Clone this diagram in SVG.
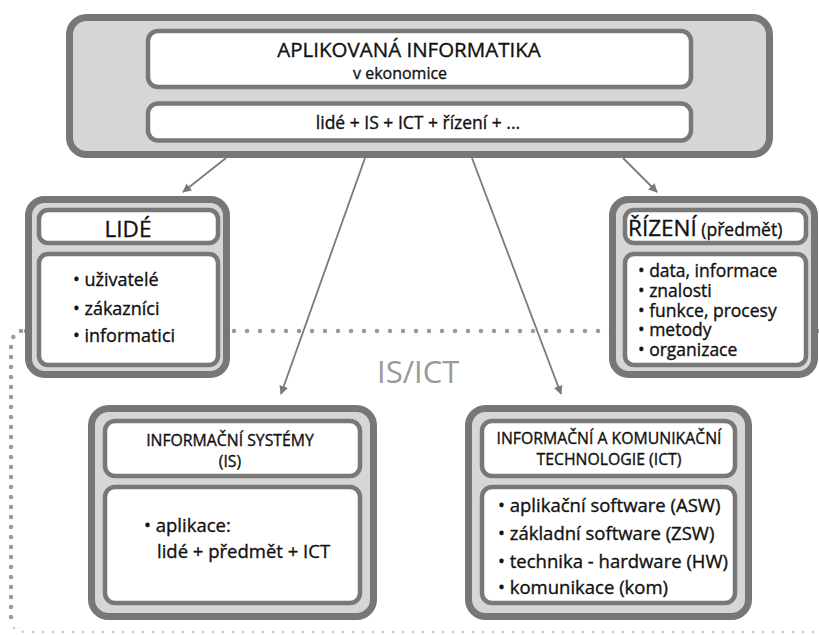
<svg xmlns="http://www.w3.org/2000/svg" width="819" height="635" viewBox="0 0 819 635">
<style>
.outer{fill:#d6d6d6;stroke:#777;stroke-width:7}
.inner{fill:#fff;stroke:#787878;stroke-width:4.5}
text{font-family:"Open Sans","Liberation Sans",sans-serif;fill:#111;stroke:#111;stroke-width:0.35}
.c{text-anchor:middle}
.conn{stroke:#7a7a7a;stroke-width:1.8;fill:none}
.dot{stroke:#9a9a9a;stroke-width:4.5;stroke-linecap:round;fill:none}
</style>
<defs>
<marker id="ah" viewBox="0 0 10 10" refX="9" refY="5" markerWidth="5" markerHeight="5" orient="auto" markerUnits="strokeWidth">
<path d="M0,0 L10,5 L0,10 z" fill="#7a7a7a"/>
</marker>
</defs>
<rect width="819" height="635" fill="#fff"/>
<g id="dotted">
<path class="dot" d="M819,331 L22,331" stroke-dasharray="0 13"/>
<path class="dot" d="M21,331 Q12,334 11,345 L11,622" stroke-dasharray="0 10"/>
<path d="M14,628 Q17,632 26,632 L819,632" stroke="#c8c8c8" stroke-width="2.5" stroke-linecap="round" fill="none" stroke-dasharray="0 10"/>
</g>
<g id="connectors">
<line class="conn" x1="226" y1="158" x2="183" y2="192" marker-end="url(#ah)"/>
<line class="conn" x1="365" y1="158" x2="281" y2="394" marker-end="url(#ah)"/>
<line class="conn" x1="472" y1="158" x2="561" y2="394" marker-end="url(#ah)"/>
<line class="conn" x1="623" y1="158" x2="657" y2="192" marker-end="url(#ah)"/>
</g>
<g id="top">
<rect class="outer" x="69.5" y="17.5" width="700" height="137" rx="17"/>
<rect class="inner" x="148" y="31" width="543" height="56" rx="10"/>
<rect class="inner" x="148" y="103.5" width="543" height="37" rx="10"/>
<text class="c" x="409" y="57" font-size="20.5">APLIKOVANÁ INFORMATIKA</text>
<text x="353" y="79" font-size="16">v ekonomice</text>
<text class="c" x="418" y="129" font-size="17.5">lidé + IS + ICT + řízení + ...</text>
</g>
<g id="lide">
<rect class="outer" x="28.5" y="199.5" width="198" height="175" rx="16"/>
<rect class="inner" x="39" y="210" width="179" height="33" rx="9"/>
<rect class="inner" x="39" y="254" width="179" height="111" rx="9"/>
<text class="c" x="128" y="237" font-size="22.5">LIDÉ</text>
<text x="73" y="286" font-size="18">• uživatelé</text>
<text x="73" y="315" font-size="18">• zákazníci</text>
<text x="73" y="342" font-size="18">• informatici</text>
</g>
<g id="rizeni">
<rect class="outer" x="612.5" y="199.5" width="202" height="175" rx="16"/>
<rect class="inner" x="625" y="210" width="181" height="33" rx="9"/>
<rect class="inner" x="625" y="254" width="181" height="111" rx="9"/>
<text x="628" y="236" font-size="22.5">ŘÍZENÍ<tspan font-size="17.5"> (předmět)</tspan></text>
<text x="638" y="277" font-size="17.5">• data, informace</text>
<text x="638" y="297" font-size="17.5">• znalosti</text>
<text x="638" y="317" font-size="17.5">• funkce, procesy</text>
<text x="638" y="336" font-size="17.5">• metody</text>
<text x="638" y="356" font-size="17.5">• organizace</text>
</g>
<text x="377" y="383" font-size="31" style="fill:#9a9a9a;stroke:none">IS/ICT</text>
<g id="is">
<rect class="outer" x="91.5" y="408.5" width="282" height="208" rx="17"/>
<rect class="inner" x="105" y="421" width="255" height="55" rx="10"/>
<rect class="inner" x="105" y="487" width="255" height="116" rx="10"/>
<text class="c" x="230" y="446" font-size="15.8">INFORMAČNÍ SYSTÉMY</text>
<text class="c" x="230" y="467" font-size="15.8">(IS)</text>
<text x="144" y="532" font-size="18.5">• aplikace:</text>
<text x="157" y="558" font-size="18.5">lidé + předmět + ICT</text>
</g>
<g id="ict">
<rect class="outer" x="468.5" y="408.5" width="280" height="208" rx="17"/>
<rect class="inner" x="482" y="421" width="253" height="55" rx="10"/>
<rect class="inner" x="482" y="487" width="253" height="116" rx="10"/>
<text class="c" x="609" y="444" font-size="15.8">INFORMAČNÍ A KOMUNIKAČNÍ</text>
<text class="c" x="609" y="465" font-size="15.8">TECHNOLOGIE (ICT)</text>
<text x="498" y="512" font-size="18.5">• aplikační software (ASW)</text>
<text x="498" y="540" font-size="18.5">• základní software (ZSW)</text>
<text x="498" y="568" font-size="18.5">• technika - hardware (HW)</text>
<text x="498" y="594" font-size="18.5">• komunikace (kom)</text>
</g>
</svg>
